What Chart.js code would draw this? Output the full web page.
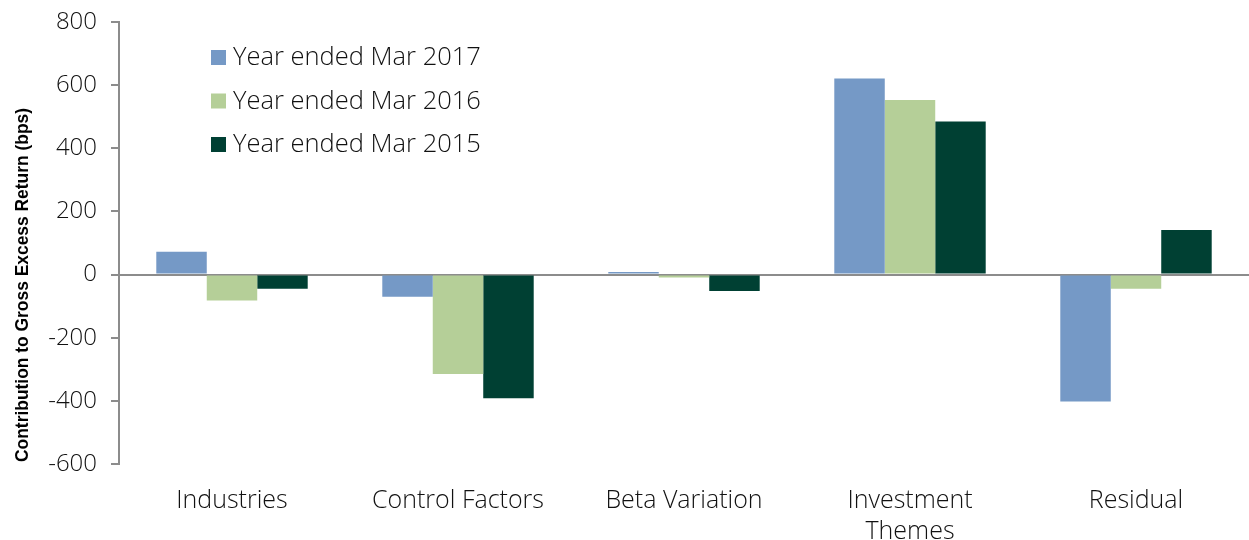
<!DOCTYPE html>
<html>
<head>
<meta charset="utf-8">
<script src="https://cdn.jsdelivr.net/npm/chart.js@4"></script>
<style>
  body { margin: 0; background: #fff; }
  #wrap { width: 1249px; height: 540px; }
</style>
</head>
<body>
<div id="wrap"><canvas id="grafico"></canvas></div>
<script>
const categorias = ['Industries', 'Control Factors', 'Beta Variation', ['Investment', 'Themes'], 'Residual'];
const ano2017 = [72, -70, 8, 621, -402];
const ano2016 = [-82, -315, -9, 553, -45];
const ano2015 = [-45, -392, -52, 485, 141];
const rotulos = ['Year ended Mar 2017', 'Year ended Mar 2016', 'Year ended Mar 2015'];
const cores = ['#7599c6', '#b5cf98', '#004033'];
const tituloY = 'Contribution to Gross Excess Return (bps)';

const fonteTexto = '"Open Sans", "Roboto", sans-serif';

// legenda desenhada dentro da area do grafico
const legendaInterna = {
    id: 'legendaInterna',
    afterDraw(chart) {
        const ctx = chart.ctx;
        ctx.save();
        ctx.font = '300 25.5px ' + fonteTexto;
        ctx.textBaseline = 'middle';
        chart.data.datasets.forEach(function (ds, i) {
            const y = 57 + i * 43.5;
            ctx.fillStyle = ds.backgroundColor;
            ctx.fillRect(211, y - 7, 15, 15);
            ctx.fillStyle = '#111';
            ctx.fillText(ds.label, 233, y + 1);
        });
        ctx.restore();
    }
};

// titulo do eixo y, um pouco condensado
const tituloEixo = {
    id: 'tituloEixo',
    afterDraw(chart) {
        const ctx = chart.ctx;
        ctx.save();
        ctx.translate(23, 462);
        ctx.rotate(-Math.PI / 2);
        ctx.font = 'bold 19px "Liberation Sans", Arial, sans-serif';
        const largura = ctx.measureText(tituloY).width;
        ctx.scale(354 / largura, 1);
        ctx.fillStyle = '#000';
        ctx.textBaseline = 'middle';
        ctx.textAlign = 'left';
        ctx.fillText(tituloY, 0, 0);
        ctx.restore();
    }
};

const planoCartesiano = document.getElementById('grafico').getContext('2d');
const chart = new Chart(planoCartesiano, {
    type: 'bar',
    data: {
        labels: categorias,
        datasets: [{
            label: rotulos[0],
            data: ano2017,
            backgroundColor: cores[0]
        }, {
            label: rotulos[1],
            data: ano2016,
            backgroundColor: cores[1]
        }, {
            label: rotulos[2],
            data: ano2015,
            backgroundColor: cores[2]
        }]
    },
    plugins: [legendaInterna, tituloEixo],
    options: {
        responsive: true,
        maintainAspectRatio: false,
        animation: false,
        layout: { padding: { top: 22, right: 0, left: 0, bottom: 0 } },
        plugins: {
            legend: { display: false },
            tooltip: { enabled: false }
        },
        datasets: {
            bar: { barPercentage: 1, categoryPercentage: 0.67 }
        },
        scales: {
            x: {
                afterFit(scale) { scale.height = 76; },
                grid: { display: false },
                border: { display: false },
                ticks: {
                    color: '#111',
                    padding: 13,
                    maxRotation: 0,
                    font: { family: fonteTexto, size: 25, weight: '300', lineHeight: 1.26 }
                }
            },
            y: {
                min: -600,
                max: 800,
                afterFit(scale) {
                    scale.width = 119;
                    scale.paddingTop = 0;
                    scale.paddingBottom = 0;
                },
                border: { display: true, color: '#8c8c8c', width: 2 },
                grid: {
                    drawOnChartArea: true,
                    color: function (c) { return c.tick && c.tick.value === 0 ? '#8c8c8c' : 'transparent'; },
                    lineWidth: 2,
                    tickColor: '#8c8c8c',
                    tickLength: 8
                },
                ticks: {
                    stepSize: 200,
                    color: '#111',
                    padding: 14,
                    font: { family: fonteTexto, size: 24, weight: '300' }
                },
                title: { display: false }
            }
        }
    }
});
</script>
</body>
</html>
